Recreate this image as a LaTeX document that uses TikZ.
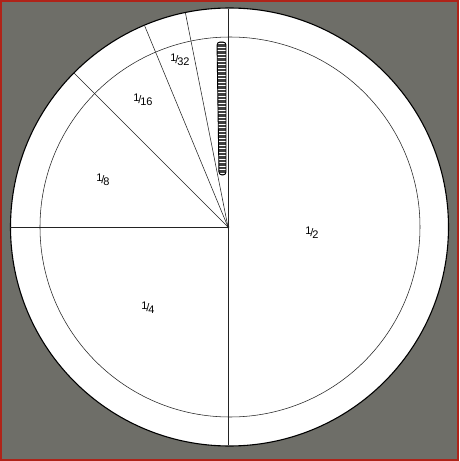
\documentclass[tikz,border=0pt]{standalone}
\usepackage{fontspec}
\setsansfont{Liberation Sans}
\usetikzlibrary{calc}

\definecolor{bggray}{RGB}{110,110,104}
\definecolor{frame}{RGB}{175,35,25}
\definecolor{ink}{RGB}{35,35,35}

\newcommand{\slfrac}[2]{\raisebox{0.35ex}{#1}\kern-0.1em/\kern-0.1em\raisebox{-0.35ex}{#2}}

\tikzset{
  ray/.style={ink,line width=0.55pt},
  rim/.style={black,line width=1.1pt},
  frac/.style={font=\sffamily\fontsize{11}{13}\selectfont,inner sep=1pt}
}

\begin{document}
\begin{tikzpicture}[x=1pt,y=1pt]
\useasboundingbox (-228,-234) rectangle (231,227);
%
\fill[bggray] (-228,-234) rectangle (231,227);
\draw[frame,line width=2pt] (-227,-233) rectangle (230,226);

% plate
\fill[white] (1.5,0) circle (219);
\draw[rim] (1.5,0) circle (219);
\draw[ray] (2,0) circle (190);

% rays
\draw[ray] (0,-218) -- (0,218);
\draw[ray] (0,0) -- (180:218);
\draw[ray] (0,0) -- (135:218);
\draw[ray] (0,0) -- (112.5:218);
\draw[ray] (0,0) -- (101.25:218);
\fill[ink] (0,0) circle (1.3);

% sliver
\begin{scope}
  \path[clip,rounded corners=3pt] (-9,52) -- (-11,185) -- (-2,185) -- (-2,52) -- cycle;
  \fill[black!75] (-12,50) rectangle (0,187);
  \foreach \y in {54,57.5,...,184}
    \draw[white,line width=0.45pt] (-12,\y) -- (0,\y);
\end{scope}
\draw[black,line width=0.9pt,rounded corners=3pt] (-9,52) -- (-11,185) -- (-2,185) -- (-2,52) -- cycle;

% labels
\node[frac] (half) at (84,-6) {\slfrac{1}{2}};
\node[frac] (quarter) at (-80,-81) {\slfrac{1}{4}};
\node[frac] (eighth) at (-125,47) {\slfrac{1}{8}};
\node[frac] (sixteenth) at (-85,127) {\slfrac{1}{16}};
\node[frac] (thirtysecond) at (-48,167) {\slfrac{1}{32}};
\end{tikzpicture}
\end{document}
